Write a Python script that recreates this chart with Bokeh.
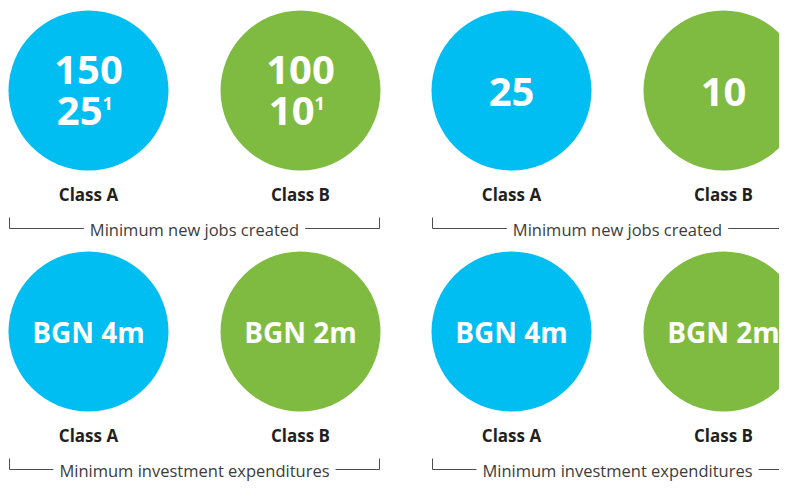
from bokeh.plotting import figure
from bokeh.models import Range1d
from bokeh.core.properties import value
from bokeh.embed import file_html
from bokeh.resources import INLINE

# ---- data ----
classes = ["Class A", "Class B"]
class_colors = ["#00BDF2", "#80BB41"]
left_jobs_main = ["150", "100"]
left_jobs_second = ["25", "10"]
footnote = "1"
right_jobs = ["25", "10"]
investment_left = ["BGN 4m", "BGN 2m"]
investment_right = ["BGN 4m", "BGN 2m"]
captions = ["Minimum new jobs created", "Minimum investment expenditures"]

# ---- layout (pixel space) ----
W, H = 779, 482
panel_x0 = [88, 511]
class_dx = 212
row_y = [90, 331]
R = 80
FONT = "Open Sans"

p = figure(width=W, height=H, output_backend="svg", toolbar_location=None,
           x_range=Range1d(0, W), y_range=Range1d(H, 0),
           min_border=0, outline_line_color=None)
p.axis.visible = False
p.grid.visible = False
p.background_fill_color = "white"
p.border_fill_color = "white"

# circles
cx, cy, cc = [], [], []
for px in panel_x0:
    for ry in row_y:
        for i, col in enumerate(class_colors):
            cx.append(px + i * class_dx)
            cy.append(ry)
            cc.append(col)
p.circle(x=cx, y=cy, radius=R, fill_color=cc, line_color=None)

num_font = dict(text_font=value(FONT), text_font_style="bold", text_color="white",
                text_baseline="middle")

# Top-left panel: two-line values with footnote
xs = [panel_x0[0] + i * class_dx for i in range(2)]
p.text(x=xs, y=[row_y[0] - 21] * 2, text=left_jobs_main, text_align="center",
       text_font_size="40px", **num_font)
p.text(x=[x + 14 for x in xs], y=[row_y[0] + 20] * 2, text=left_jobs_second,
       text_align="right", text_font_size="40px", **num_font)
p.text(x=[x + 14 for x in xs], y=[row_y[0] + 13] * 2, text=[footnote] * 2,
       text_align="left", text_font_size="18px", **num_font)

# Top-right panel
xs = [panel_x0[1] + i * class_dx for i in range(2)]
p.text(x=xs, y=[row_y[0] + 1] * 2, text=right_jobs, text_align="center",
       text_font_size="40px", **num_font)

# Bottom panels
for k, vals in enumerate([investment_left, investment_right]):
    xs = [panel_x0[k] + i * class_dx for i in range(2)]
    p.text(x=xs, y=[row_y[1]] * 2, text=vals, text_align="center",
           text_font_size="28px", **num_font)

# Class labels
lx, ly, lt = [], [], []
for px in panel_x0:
    for ry in row_y:
        for i, c in enumerate(classes):
            lx.append(px + i * class_dx)
            ly.append(ry + 104)
            lt.append(c)
p.text(x=lx, y=ly, text=lt, text_align="center", text_baseline="middle",
       text_font=value(FONT), text_font_style="bold", text_font_size="17px",
       text_color="#231F20")

# Brackets with captions
for px in panel_x0:
    for r, ry in enumerate(row_y):
        x0 = px - 79
        x1 = px + class_dx + 79
        yl = ry + 138
        p.multi_line(xs=[[x0, x0, x1, x1]], ys=[[yl - 11, yl, yl, yl - 11]],
                     line_color="#4D4D4F", line_width=1)
        p.text(x=[(x0 + x1) / 2], y=[yl + 1], text=[captions[r]],
               text_align="center", text_baseline="middle",
               text_font=value(FONT), text_font_size="16.5px", text_color="#3C3C3C",
               background_fill_color="white", padding=dict(x=6, y=0))

open("out.html", "w").write(file_html(p, INLINE))
